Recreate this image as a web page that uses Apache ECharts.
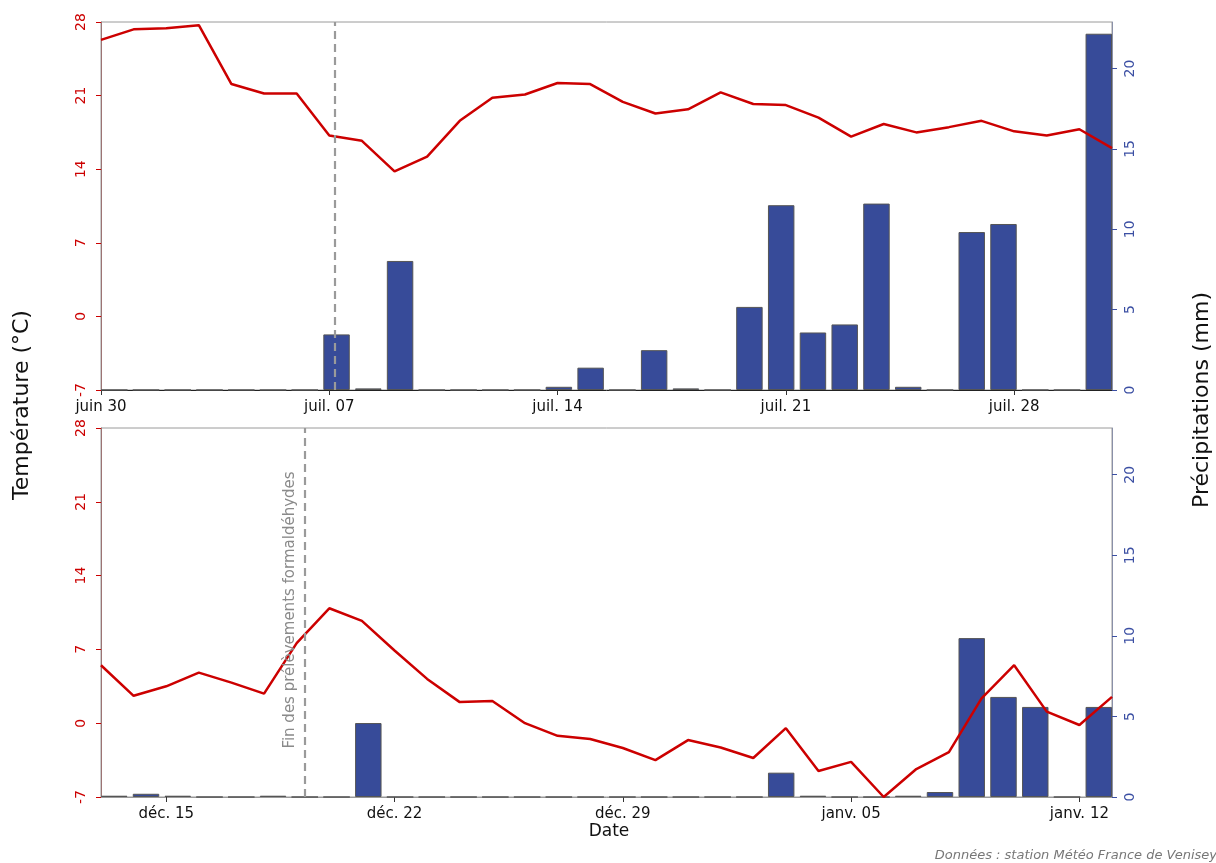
<!DOCTYPE html>
<html>
<head>
<meta charset="utf-8">
<script src="https://cdn.jsdelivr.net/npm/echarts@6/dist/echarts.min.js"></script>
<style>
html,body{margin:0;padding:0;background:#fff;}
#chart{width:1216px;height:863px;}
</style>
</head>
<body>
<div id="chart"></div>
<script>
// ---- data ----
const dayIndex = [0,1,2,3,4,5,6,7,8,9,10,11,12,13,14,15,16,17,18,19,20,21,22,23,24,25,26,27,28,29,30,31];

const tempTop = [26.3,27.3,27.4,27.7,22.1,21.2,21.2,17.2,16.7,13.8,
                 15.2,18.6,20.8,21.1,22.2,22.1,20.4,19.3,19.7,21.3,
                 20.2,20.1,18.9,17.1,18.3,17.5,18.0,18.6,17.6,17.2,
                 17.8,16.0];
const precipTop = [0,0,0,0,0,0,0,3.46,0.1,8.03,
                   0,0,0,0,0.2,1.39,0,2.48,0.1,0,
                   5.17,11.5,3.58,4.08,11.6,0.2,0,9.83,10.33,0,
                   0,22.17];

const tempBot = [5.5,2.6,3.5,4.8,3.85,2.8,7.6,10.9,9.7,6.9,
                 4.2,2.0,2.1,0.0,-1.2,-1.5,-2.35,-3.5,-1.6,-2.3,
                 -3.3,-0.47,-4.53,-3.67,-7.0,-4.35,-2.75,2.35,5.5,1.1,
                 -0.17,2.5];
const precipBot = [0.08,0.2,0.08,0,0,0.08,0,0,4.59,0,
                   0,0,0,0,0,0,0,0,0,0,
                   0,1.51,0.08,0,0,0.08,0.31,9.86,6.21,5.59,
                   0,5.59];

const tickDaysTop = [0,7,14,21,28];
const tickLabelsTop = ['juin 30','juil. 07','juil. 14','juil. 21','juil. 28'];
const tickDaysBot = [2,9,16,23,30];
const tickLabelsBot = ['déc. 15','déc. 22','déc. 29','janv. 05','janv. 12'];

const tempTicks = [-7,0,7,14,21,28];
const precipTicks = [0,5,10,15,20];

const markTop = 7.175;   // fin des prélèvements (jour fractionnaire)
const markBot = 6.255;

// ---- style ----
const RED = '#cc0000';
const BLUE = '#3b4fa3';
const BAR = '#374b99';
const FONT = 'DejaVu Sans';
const PMAX = 22.9;

function pairs(xs, ys){ return xs.map((x,i)=>[x, ys[i]]); }
function labelFn(days, labels){
  return function(v){ const k = days.indexOf(Math.round(v)); return k>=0 ? labels[k] : ''; };
}

const L = 101, W = 1011;
const slot = W / 31.833;            // bar slot in px (R barplot, space 0.2)
const barLeft = L - slot*0.0833;
const barWidthGrid = slot*32;

function panel(top, height, k, temps, precs, days, labels, markX, bottomAxisColor){
  const gi = k*2;
  const grids = [
    {left:L, top:top, width:W, height:height, show:true, borderColor:'#9a9a9a', borderWidth:1, backgroundColor:'transparent'},
    {left:barLeft, top:top, width:barWidthGrid, height:height, show:false}
  ];
  const xAxes = [
    {gridIndex:gi, type:'value', min:0, max:31, position:'bottom',
     axisLine:{show:true, onZero:false, lineStyle:{color:bottomAxisColor, width:1}},
     axisTick:{show:true, length:5, customValues:days, lineStyle:{color:'#333'}},
     axisLabel:{show:true, customValues:days, formatter:labelFn(days, labels), color:'#111', fontFamily:FONT, fontSize:15, margin:10, hideOverlap:false},
     splitLine:{show:false}},
    {gridIndex:gi+1, type:'category', data:dayIndex, show:false, boundaryGap:true}
  ];
  const yAxes = [
    {gridIndex:gi, type:'value', position:'left', min:-7, max:28,
     axisLine:{show:true, lineStyle:{color:'#9c7474', width:1}},
     axisTick:{show:true, length:5, customValues:tempTicks, lineStyle:{color:RED}},
     axisLabel:{show:true, customValues:tempTicks, rotate:90, color:RED, fontFamily:FONT, fontSize:14, margin:13,
                showMinLabel:true, showMaxLabel:true, hideOverlap:false},
     splitLine:{show:false}},
    {gridIndex:gi, type:'value', position:'right', min:0, max:PMAX,
     axisLine:{show:true, lineStyle:{color:'#8a90a8', width:1}},
     axisTick:{show:true, length:5, customValues:precipTicks, lineStyle:{color:BLUE}},
     axisLabel:{show:true, customValues:precipTicks, rotate:90, color:BLUE, fontFamily:FONT, fontSize:14, margin:11,
                showMinLabel:true, hideOverlap:false},
     splitLine:{show:false}},
    {gridIndex:gi+1, type:'value', min:0, max:PMAX, show:false, splitLine:{show:false}}
  ];
  const xb = k*2, yb = k*3;
  const series = [
    {type:'bar', xAxisIndex:xb+1, yAxisIndex:yb+2, data:precs, barCategoryGap:'16.7%', z:2,
     itemStyle:{color:BAR, borderColor:'#555', borderWidth:1}, silent:true, animation:false},
    {type:'line', xAxisIndex:xb, yAxisIndex:yb, data:pairs(dayIndex, temps), showSymbol:false, z:3,
     lineStyle:{color:RED, width:2.5}, animation:false, silent:true,
     markLine:{silent:true, symbol:['none','none'], animation:false,
       lineStyle:{color:'#9a9a9a', type:[8,5], width:2.2},
       label:{show:false}, data:[{xAxis:markX}]}}
  ];
  return {grids, xAxes, yAxes, series};
}

const p1 = panel(22, 368, 0, tempTop, precipTop, tickDaysTop, tickLabelsTop, markTop, '#222');
const p2 = panel(428, 369, 1, tempBot, precipBot, tickDaysBot, tickLabelsBot, markBot, '#9a9a9a');

const option = {
  backgroundColor:'#fff',
  animation:false,
  grid:[...p1.grids, ...p2.grids],
  xAxis:[...p1.xAxes, ...p2.xAxes],
  yAxis:[...p1.yAxes, ...p2.yAxes],
  series:[...p1.series, ...p2.series],
  graphic:[
    {type:'text', x:22, y:405, rotation:Math.PI/2,
     style:{text:'Température (°C)', font:'22px "DejaVu Sans"', fill:'#111', textAlign:'center', textVerticalAlign:'middle'}},
    {type:'text', x:1202, y:400, rotation:Math.PI/2,
     style:{text:'Précipitations (mm)', font:'22px "DejaVu Sans"', fill:'#111', textAlign:'center', textVerticalAlign:'middle'}},
    {type:'text', x:609, y:832,
     style:{text:'Date', font:'17px "DejaVu Sans"', fill:'#111', textAlign:'center', textVerticalAlign:'middle'}},
    {type:'text', x:1217, y:856,
     style:{text:'Données : station Météo France de Venisey', font:'italic 13px "DejaVu Sans"', fill:'#777', textAlign:'right', textVerticalAlign:'middle'}},
    {type:'text', x:290, y:610, rotation:Math.PI/2, z:10,
     style:{text:'Fin des prélèvements formaldéhydes', font:'15px "DejaVu Sans"', fill:'#8a8a8a', textAlign:'center', textVerticalAlign:'middle'}}
  ]
};

const chart = echarts.init(document.getElementById('chart'), null, {renderer:'canvas'});
chart.setOption(option);
</script>
</body>
</html>
